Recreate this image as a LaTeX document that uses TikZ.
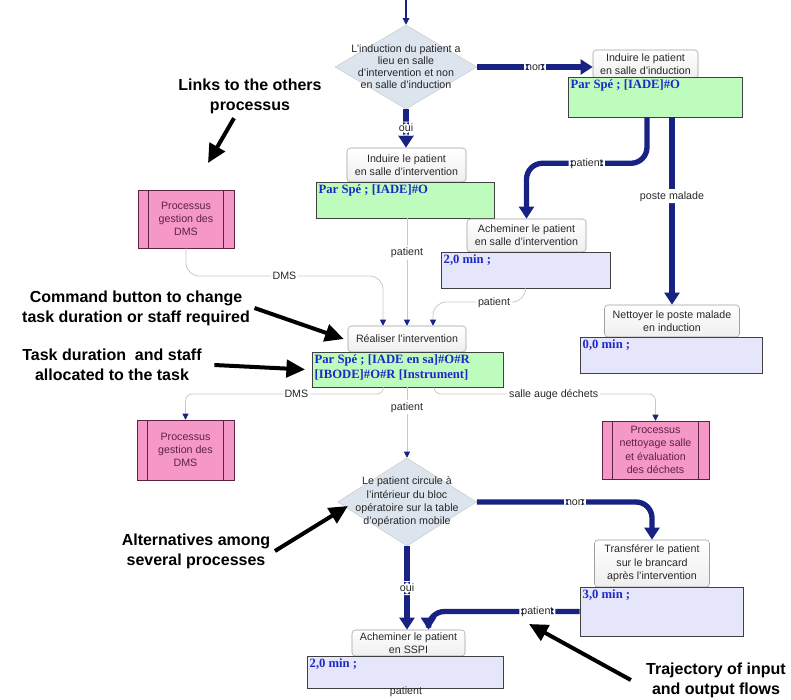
\documentclass[tikz,border=0pt]{standalone}
\usepackage{fontspec}
\setmainfont{Liberation Sans}
\newfontfamily\serifdur{Liberation Serif}
\usetikzlibrary{shapes.geometric,arrows.meta}
\definecolor{marine}{RGB}{24,34,130}
\definecolor{trait}{RGB}{200,200,200}
\definecolor{vertclair}{RGB}{190,252,190}
\definecolor{lavande}{RGB}{230,230,250}
\definecolor{rose}{RGB}{245,152,200}
\definecolor{bordrose}{RGB}{95,35,65}
\definecolor{losange}{RGB}{220,228,238}
\definecolor{bleutexte}{RGB}{30,40,200}
\definecolor{gristexte}{RGB}{40,40,40}
\begin{document}
\begin{tikzpicture}[x=0.75pt,y=-0.75pt,
every node/.style={font=\fontsize{8}{10}\selectfont,text=gristexte},
choix/.style={diamond,draw=gray!40,fill=losange,inner sep=0pt},
tache/.style={draw=gray!75,rounded corners=2.5pt,top color=white,bottom color=gray!13,align=center,inner sep=1pt},
ressource/.style={draw=black!75,fill=vertclair,inner sep=0pt},
delai/.style={draw=black!75,fill=lavande,inner sep=0pt},
duree/.style={anchor=north west,inner sep=2pt,align=left,text=bleutexte,font=\serifdur\bfseries\fontsize{9.5}{11}\selectfont},
processus/.style={draw=bordrose,fill=rose,align=center,inner sep=0pt,text=bordrose,
  path picture={\draw[bordrose] ([xshift=8pt]path picture bounding box.north west) -- ([xshift=8pt]path picture bounding box.south west)
  ([xshift=-8pt]path picture bounding box.north east) -- ([xshift=-8pt]path picture bounding box.south east);}},
flux/.style={draw=marine,line width=4pt,rounded corners=12pt,-{Triangle[width=11pt,length=9pt]}},
lien/.style={draw=trait,line width=.6pt,rounded corners=10pt,-{Triangle[width=4.5pt,length=4.5pt,color=marine]}},
entree/.style={draw=marine,line width=.8pt,-{Triangle[width=5pt,length=5pt]}},
etiq/.style={fill=white,inner sep=1.5pt,text height=6pt,text depth=1.5pt},
note/.style={align=center,text=black,font=\bfseries\fontsize{12}{15}\selectfont},
fleche/.style={draw=black,line width=3pt,-{Triangle[width=13pt,length=14pt]}}]
\useasboundingbox (0,0) rectangle (791,699);
\node[choix,minimum width=106.5pt,minimum height=63pt] (d1) at (406,67) {};
\node[align=center,font=\fontsize{8}{9}\selectfont] (d1t) at (d1) {L'induction du patient a\\lieu en salle\\d'intervention et non\\en salle d'induction};
\node[tache,minimum width=78.75pt,minimum height=21.75pt] (t1) at (645.5,64.5) {Induire le patient\\en salle d'induction};
\node[ressource,minimum width=130.5pt,minimum height=30pt] (g1) at (655,97) {};
\node[duree] (g1t) at (g1.north west) {Par Spé ; [IADE]\#O};
\node[tache,minimum width=89.25pt,minimum height=25.5pt] (t2) at (406.5,165) {Induire le patient\\en salle d'intervention};
\node[ressource,minimum width=133.5pt,minimum height=27pt] (g2) at (405,200) {};
\node[duree] (g2t) at (g2.north west) {Par Spé ; [IADE]\#O};
\node[tache,minimum width=89.25pt,minimum height=24.75pt] (t3) at (526.5,235.5) {Acheminer le patient\\en salle d'intervention};
\node[delai,minimum width=126.75pt,minimum height=27pt] (l3) at (525.5,270) {};
\node[duree] (l3t) at (l3.north west) {2,0 min ;};
\node[tache,minimum width=101.25pt,minimum height=24pt] (t4) at (672,321) {Nettoyer le poste malade\\en induction};
\node[delai,minimum width=136.5pt,minimum height=27pt] (l4) at (671,355) {};
\node[duree] (l4t) at (l4.north west) {0,0 min ;};
\node[processus,minimum width=72pt,minimum height=43.5pt] (p1) at (186,219) {Processus\\gestion des\\DMS};
\node[tache,minimum width=88.5pt,minimum height=19.5pt] (t5) at (407,339) {Réaliser l'intervention};
\node[ressource,minimum width=143.25pt,minimum height=26.25pt] (g5) at (407.5,369.5) {};
\node[duree] (g5t) at (g5.north west) {Par Spé ; [IADE en sa]\#O\#R\\{[IBODE]}\#O\#R [Instrument]};
\node[processus,minimum width=72.75pt,minimum height=45pt] (p2) at (185.5,450) {Processus\\gestion des\\DMS};
\node[processus,minimum width=80.25pt,minimum height=43.5pt] (p3) at (655.5,450) {Processus\\nettoyage salle\\et évaluation\\des déchets};
\node[choix,minimum width=104.25pt,minimum height=66pt] (d2) at (407,502) {};
\node[align=center] (d2t) at (d2) {Le patient circule à\\l'intérieur du bloc\\opératoire sur la table\\d'opération mobile};
\node[tache,minimum width=86.25pt,minimum height=35.25pt] (t6) at (652,563.5) {Transférer le patient\\sur le brancard\\après l'intervention};
\node[delai,minimum width=122.25pt,minimum height=36.75pt] (l6) at (661.5,611.5) {};
\node[duree] (l6t) at (l6.north west) {3,0 min ;};
\node[tache,minimum width=84.75pt,minimum height=19.5pt] (t7) at (408.5,643) {Acheminer le patient\\en SSPI};
\node[delai,minimum width=147pt,minimum height=24pt] (l7) at (405,672) {};
\node[duree] (l7t) at (l7.north west) {2,0 min ;};
\node (fin) at (406,692) {patient};
\coordinate (debut) at (406,0);
\draw[entree] (debut) -- (d1.north);
\draw[flux] (d1.east) -- node[etiq]{non} (d1.east -| t1.west);
\draw[flux] (d1.south) -- node[etiq]{oui} (d1.south |- t2.north);
\draw[flux] ([xshift=-6pt]g1.south) -- ++(0,46) -| node[etiq,pos=0.25]{patient} (t3.north);
\draw[flux] (t4.north |- g1.south) -- node[etiq,pos=0.42]{poste malade} (t4.north);
\coordinate (k1) at (383,276);
\coordinate (k2) at (433,302);
\draw[lien] (p1.south) |- node[etiq,pos=0.75]{DMS} (k1) -- (k1 |- t5.north);
\draw[lien] (g2.south -| t5.north) -- node[etiq,pos=0.32]{patient} (t5.north);
\draw[lien] (l3.south) |- node[etiq,pos=0.67]{patient} (k2) -- (k2 |- t5.north);
\coordinate (k3) at (185.5,394);
\coordinate (k4) at (655.5,394);
\draw[lien,rounded corners=5pt] ([xshift=-18pt]g5.south) |- node[etiq,pos=0.72]{DMS} (k3) -- (p2.north);
\draw[lien] (g5.south -| d2.north) -- node[etiq,pos=0.28]{patient} (d2.north);
\draw[lien,rounded corners=5pt] ([xshift=20pt]g5.south) |- node[etiq,pos=0.77]{salle auge déchets} (k4) -- (p3.north);
\draw[flux] (d2.east) -| node[etiq,pos=0.28]{non} (t6.north);
\draw[flux] (d2.south) -- node[etiq]{oui} (d2.south |- t7.north);
\draw[flux] (l6.west) -| node[etiq,pos=0.14]{patient} ([xshift=15pt]t7.north);
\node[note] (n1) at (250,96) {Links to the others\\processus};
\coordinate (r1) at (208,163);
\draw[fleche] ([xshift=-12pt]n1.south) -- (r1);
\node[note] (n2) at (136,308) {Command button to change\\task duration or staff required};
\draw[fleche] (n2.east) -- ([xshift=-3pt]t5.west);
\node[note] (n3) at (112,365) {Task duration\ \ and staff\\allocated to the task};
\draw[fleche] ([xshift=6pt]n3.east) -- ([xshift=-5pt]g5.west);
\node[note] (n4) at (196,551) {Alternatives among\\several processes};
\draw[fleche] (n4.east) -- ([shift={(8pt,-3pt)}]d2.west);
\node[note] (n5) at (716,680) {Trajectory of input\\and output flows};
\coordinate (r5) at (529,624);
\draw[fleche] ([xshift=-8pt]n5.west) -- (r5);
\end{tikzpicture}
\end{document}
